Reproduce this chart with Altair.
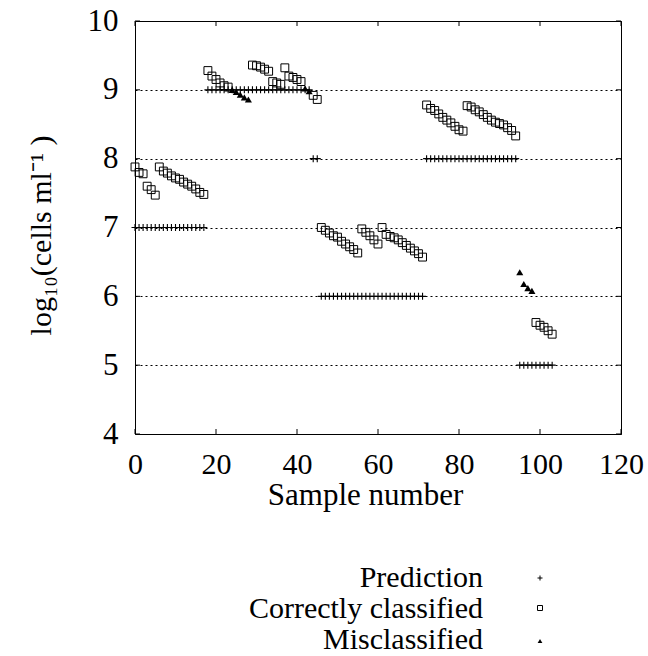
import altair as alt
import pandas as pd

# ---------------- data ----------------
sample = list(range(104))

prediction = [
    7, 7, 7, 7, 7, 7, 7, 7, 7, 7, 7, 7, 7, 7, 7, 7, 7, 7,            # 0-17
    9, 9, 9, 9, 9, 9, 9, 9, 9, 9, 9, 9, 9, 9, 9, 9, 9, 9, 9, 9,      # 18-37
    9, 9, 9, 9, 9, 9,                                                # 38-43
    8, 8,                                                            # 44-45
    6, 6, 6, 6, 6, 6, 6, 6, 6, 6, 6, 6, 6, 6, 6, 6, 6, 6, 6, 6,      # 46-65
    6, 6, 6, 6, 6, 6,                                                # 66-71
    8, 8, 8, 8, 8, 8, 8, 8, 8, 8, 8, 8, 8, 8, 8, 8, 8, 8, 8, 8,      # 72-91
    8, 8, 8,                                                         # 92-94
    5, 5, 5, 5, 5, 5, 5, 5, 5,                                       # 95-103
]

observed = [
    7.88, 7.80, 7.78, 7.60, 7.55, 7.47, 7.88, 7.82, 7.79, 7.75,
    7.72, 7.70, 7.66, 7.63, 7.60, 7.56, 7.51, 7.48,
    9.28, 9.20, 9.15, 9.10, 9.06, 9.04, 9.00, 8.97, 8.93, 8.89, 8.86,
    9.36, 9.35, 9.33, 9.30, 9.27, 9.12, 9.10, 9.08, 9.32, 9.20,
    9.18, 9.15, 9.12, 9.02, 8.98, 8.92, 8.86,
    7.00, 6.96, 6.92, 6.88, 6.86, 6.80, 6.76, 6.72, 6.68, 6.63,
    6.98, 6.93, 6.88, 6.82, 6.76,
    7.00, 6.90, 6.87, 6.85, 6.82, 6.78, 6.74, 6.70, 6.66, 6.62, 6.57,
    8.78, 8.73, 8.70, 8.65, 8.60, 8.56, 8.52, 8.47, 8.42, 8.40,
    8.77, 8.75, 8.71, 8.68, 8.64, 8.60, 8.56, 8.53, 8.51, 8.49,
    8.45, 8.41, 8.33,
    6.35, 6.18, 6.12, 6.08,
    5.62, 5.58, 5.55, 5.50, 5.45,
]

status = (
    ["C"] * 24 + ["M"] * 5 + ["C"] * 13 + ["M"] * 2 + ["C"] * 2
    + ["C"] * 26 + ["C"] * 23 + ["M"] * 4 + ["C"] * 5
)

x_ticks = [0, 20, 40, 60, 80, 100, 120]
y_ticks = [4, 5, 6, 7, 8, 9, 10]
legend_labels = ["Prediction", "Correctly classified", "Misclassified"]

# ---------------- layout ----------------
W, H = 486, 413
FONT = "Liberation Serif"
PLUS = "M-1,0L1,0M0,-1L0,1"

df = pd.DataFrame({"sample": sample, "value": observed, "status": status})
dfp = pd.DataFrame({"sample": sample, "value": prediction})
dfc = df[df["status"] == "C"]
dfm = df[df["status"] == "M"]

xs = alt.Scale(domain=[0, 120], nice=False, zero=False)
ys = alt.Scale(domain=[4, 10], nice=False, zero=False)

x_axis = alt.Axis(values=x_ticks, format="d", title="Sample number", grid=False,
                  ticks=False, domain=False, labelPadding=15, labelFlush=False,
                  labelFont=FONT, labelFontSize=30, labelColor="black",
                  titleFont=FONT, titleFontSize=31, titleFontWeight="normal",
                  titleColor="black", titleBaseline="alphabetic",
                  titleY=70, titleX=230)
y_axis = alt.Axis(values=y_ticks, format="d", title="log\u2081\u2080(cells ml\u207b\u00b9 )",
                  grid=True, gridDash=[2, 3], gridColor="black", gridOpacity=1,
                  gridWidth=1, ticks=False, domain=False, labelPadding=17,
                  labelFlush=False, labelFont=FONT, labelFontSize=31, labelColor="black",
                  titleFont=FONT, titleFontSize=30, titleFontWeight="normal",
                  titleColor="black",
                  titleBaseline="alphabetic", titleAngle=270, titleX=-85, titleY=214,
                  titleAlign="center")

pred = alt.Chart(dfp).mark_point(shape=PLUS, filled=False, color="black", size=49,
                                 strokeWidth=1.1, opacity=1).encode(
    x=alt.X("sample:Q", scale=xs, axis=x_axis),
    y=alt.Y("value:Q", scale=ys, axis=y_axis),
)

corr = alt.Chart(dfc).mark_point(shape="square", filled=False, color="black", size=62,
                                 strokeWidth=1, opacity=1).encode(
    x=alt.X("sample:Q", scale=xs),
    y=alt.Y("value:Q", scale=ys),
)

mis = alt.Chart(dfm).mark_point(shape="triangle-up", filled=True, color="black", size=50,
                                opacity=1).encode(
    x=alt.X("sample:Q", scale=xs),
    y=alt.Y("value:Q", scale=ys),
)

dxt = pd.DataFrame({"sample": x_ticks})
dyt = pd.DataFrame({"value": y_ticks})
xt_bot = alt.Chart(dxt).mark_rule(color="black", strokeWidth=1).encode(
    x=alt.X("sample:Q", scale=xs), y=alt.value(H), y2=alt.value(H - 5))
xt_top = alt.Chart(dxt).mark_rule(color="black", strokeWidth=1).encode(
    x=alt.X("sample:Q", scale=xs), y=alt.value(0), y2=alt.value(5))
yt_left = alt.Chart(dyt).mark_rule(color="black", strokeWidth=1).encode(
    y=alt.Y("value:Q", scale=ys), x=alt.value(0), x2=alt.value(5))
yt_right = alt.Chart(dyt).mark_rule(color="black", strokeWidth=1).encode(
    y=alt.Y("value:Q", scale=ys), x=alt.value(W), x2=alt.value(W - 5))

legend_layers = []
text_y = [566, 597, 628]
sym_y = [557, 587, 620]
sym_marks = [
    dict(shape=PLUS, filled=False, size=25, strokeWidth=1),
    dict(shape="square", filled=False, size=25, strokeWidth=1),
    dict(shape="triangle-up", filled=True, size=22),
]
for lab, ty, sy, sm in zip(legend_labels, text_y, sym_y, sym_marks):
    d = pd.DataFrame({"t": [lab]})
    legend_layers.append(
        alt.Chart(d).mark_text(align="right", baseline="alphabetic", font=FONT,
                               fontSize=30, color="black").encode(
            text="t:N", x=alt.value(348), y=alt.value(ty)))
    legend_layers.append(
        alt.Chart(d).mark_point(color="black", opacity=1, **sm).encode(
            x=alt.value(405), y=alt.value(sy)))

chart = alt.layer(pred, corr, mis, xt_bot, xt_top, yt_left, yt_right,
                  *legend_layers).properties(
    width=W, height=H,
    autosize=alt.AutoSizeParams(type="none"),
    padding={"left": 135, "top": 21, "right": 27, "bottom": 222},
    background="white",
).configure_view(
    stroke="black", strokeWidth=1
)

chart.save("out.html", embed_options={"renderer": "svg", "actions": False})
